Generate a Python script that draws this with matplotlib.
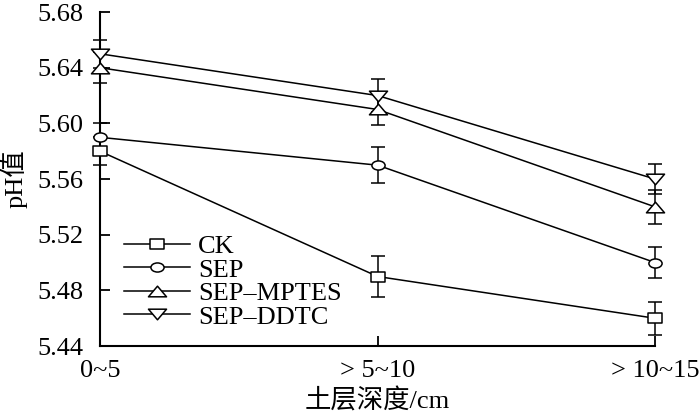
import numpy as np
import matplotlib
matplotlib.use("Agg")
from matplotlib import pyplot as plt
from matplotlib.path import Path
from matplotlib.lines import Line2D

plt.rcParams['font.family'] = ['Liberation Serif', 'Noto Sans CJK SC']
plt.rcParams['axes.unicode_minus'] = False

# Data
depths = ['0~5', '> 5~10', '> 10~15']
ck = [5.58, 5.49, 5.46]
ck_err = [0.010, 0.015, 0.012]
sep = [5.59, 5.57, 5.50]
sep_err = [0.010, 0.013, 0.011]
mptes = [5.64, 5.61, 5.54]
mptes_err = [0.011, 0.011, 0.012]
ddtc = [5.65, 5.62, 5.56]
ddtc_err = [0.010, 0.012, 0.011]
labels = ['CK', 'SEP', 'SEP\u2013MPTES', 'SEP\u2013DDTC']

# markers in the original are drawn wider than tall
def stretched(verts, codes, sx):
    v = np.array(verts, dtype=float)
    v[:, 0] *= sx
    return Path(v, codes)

closed4 = [Path.MOVETO, Path.LINETO, Path.LINETO, Path.CLOSEPOLY]
square = stretched([[-1, -1], [1, -1], [1, 1], [-1, 1], [-1, -1]],
                   [Path.MOVETO, Path.LINETO, Path.LINETO, Path.LINETO, Path.CLOSEPOLY], 1.45)
circ = Path.unit_circle()
ellipse = Path(circ.vertices * [1.45, 1.0], circ.codes)
tri_up = stretched([[0, 1], [-1, -1], [1, -1], [0, 1]], closed4, 1.7)
tri_down = stretched([[0, -1], [-1, 1], [1, 1], [0, -1]], closed4, 1.7)

fig = plt.figure(figsize=(7, 4.16), dpi=100)
ax = fig.add_axes([0.143, 0.168, 0.793, 0.803])

x = np.arange(len(depths))
series = [(ck, ck_err, square, 9.5), (sep, sep_err, ellipse, 9.5),
          (mptes, mptes_err, tri_up, 13), (ddtc, ddtc_err, tri_down, 13)]
handles = []
for (vals, err, mk, ms), lab in zip(series, labels):
    ax.errorbar(x, vals, yerr=err, color='black', lw=1.1, elinewidth=1.1,
                capsize=5, capthick=1.1, marker=mk, ms=ms, mfc='white',
                mec='black', mew=1.1, clip_on=False, zorder=3)
    handles.append(Line2D([], [], color='black', lw=1.1, marker=mk, ms=ms,
                          mfc='white', mec='black', mew=1.1, label=lab))

ax.set_xlim(0, 2)
ax.set_ylim(5.44, 5.68)
yt = np.arange(5.44, 5.6801, 0.04)
ax.set_yticks(yt)
ax.set_yticklabels(['%.2f' % v for v in yt])
ax.set_xticks(x)
ax.set_xticklabels(depths)
ax.tick_params(direction='in', length=7, width=1.3, labelsize=19)
ax.tick_params(axis='y', pad=12)
ax.tick_params(axis='x', pad=10)

for s in ['top', 'right']:
    ax.spines[s].set_visible(False)
for s in ['left', 'bottom']:
    ax.spines[s].set_linewidth(1.5)

ax.set_ylabel('pH值', fontsize=19, labelpad=7)
ax.set_xlabel('土层深度/cm', fontsize=19, labelpad=5)

ax.legend(handles=handles, loc='lower left', bbox_to_anchor=(0.015, 0.005),
          frameon=False, fontsize=19, handlelength=2.5, handletextpad=0.3,
          labelspacing=0.0, borderaxespad=0.2)

fig.savefig('out.png', dpi=100)
